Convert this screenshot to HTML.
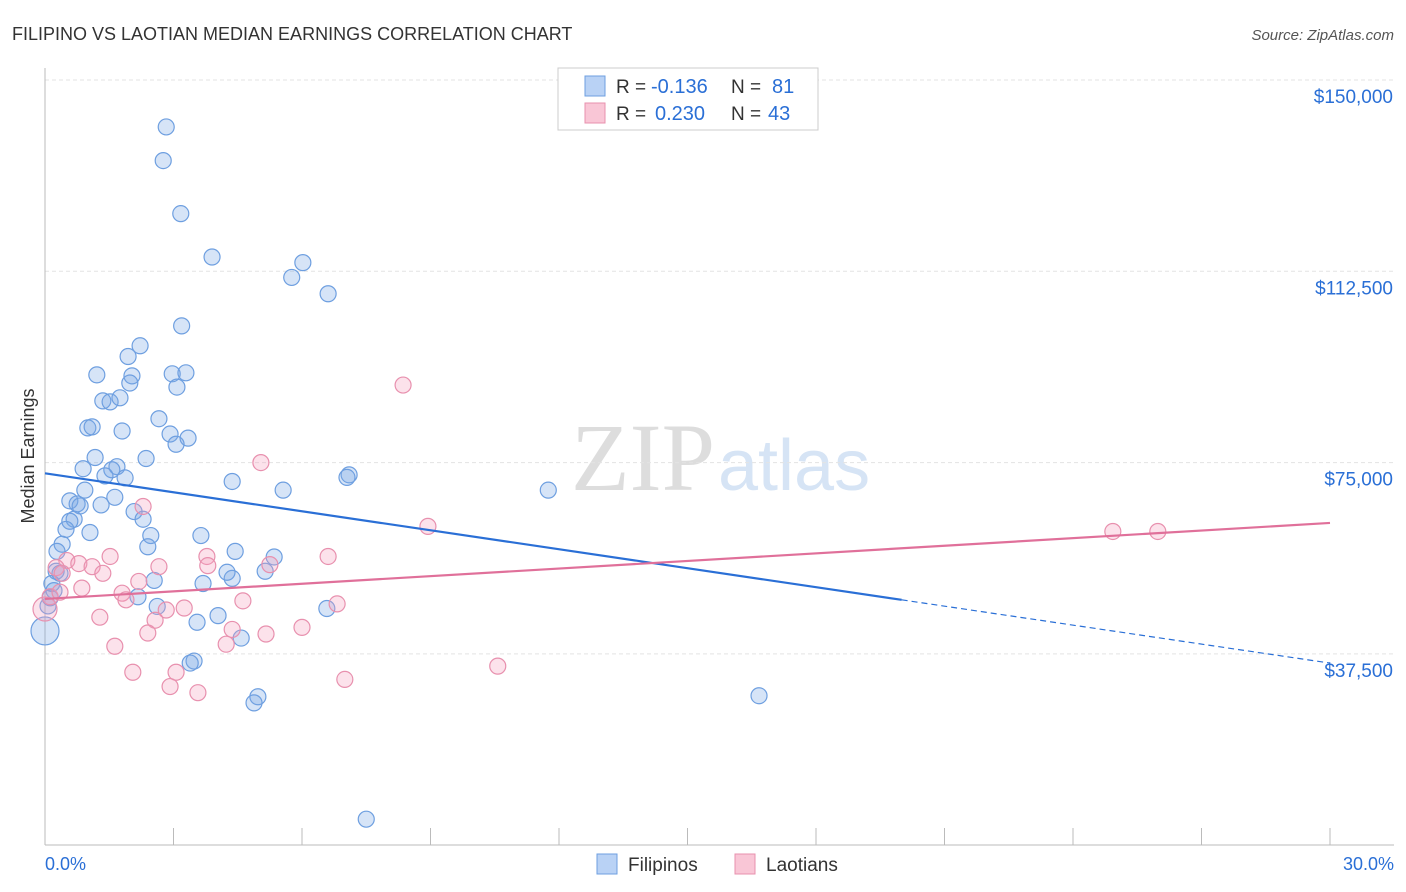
<!DOCTYPE html>
<html><head><meta charset="utf-8"><style>
body{margin:0;background:#fff;font-family:"Liberation Sans",sans-serif;}
svg{display:block}
</style></head><body>
<svg id="chart" width="1406" height="892">
<text x="12" y="40" font-size="18" fill="#333">FILIPINO VS LAOTIAN MEDIAN EARNINGS CORRELATION CHART</text>
<text x="1394" y="40" font-size="15" fill="#555" font-style="italic" text-anchor="end">Source: ZipAtlas.com</text>
<text x="715" y="490" font-size="96" fill="#ddd" font-family="Liberation Serif" text-anchor="end">ZIP</text>
<text x="718" y="490" font-size="72" fill="#d6e4f5" text-anchor="start">atlas</text>
<text x="34" y="456" font-size="18" fill="#333" text-anchor="middle" transform="rotate(-90 34 456)">Median Earnings</text>
<g id="grid"></g><g id="marks"></g>
<g>
<rect x="558" y="68" width="260" height="62" fill="#fff" stroke="#ccc"/>
<rect x="585" y="76" width="20" height="20" fill="#b9d2f5" stroke="#6e9fe0"/>
<rect x="585" y="103" width="20" height="20" fill="#f9c6d6" stroke="#e890ae"/>
<text x="616" y="93" font-size="19" fill="#333">R =</text>
<text x="651" y="93" font-size="20" fill="#2a6fd6">-0.136</text>
<text x="731" y="93" font-size="19" fill="#333">N =</text>
<text x="772" y="93" font-size="20" fill="#2a6fd6">81</text>
<text x="616" y="120" font-size="19" fill="#333">R =</text>
<text x="655" y="120" font-size="20" fill="#2a6fd6">0.230</text>
<text x="731" y="120" font-size="19" fill="#333">N =</text>
<text x="768" y="120" font-size="20" fill="#2a6fd6">43</text>
</g>
<g>
<rect x="597" y="854" width="20" height="20" fill="#b9d2f5" stroke="#6e9fe0"/>
<text x="628" y="871" font-size="19" fill="#333">Filipinos</text>
<rect x="735" y="854" width="20" height="20" fill="#f9c6d6" stroke="#e890ae"/>
<text x="766" y="871" font-size="19" fill="#333">Laotians</text>
</g>
<text x="45" y="870" font-size="18" fill="#2a6fd6">0.0%</text>
<text x="1394" y="870" font-size="18" fill="#2a6fd6" text-anchor="end">30.0%</text>
</svg>
<script>
const yTicks=[150000,112500,75000,37500];
const yTickLabels=["$150,000","$112,500","$75,000","$37,500"];
const blueX=[2.83,2.76,3.17,3.90,6.02,5.76,6.61,3.19,2.22,1.94,1.21,2.97,3.29,2.03,1.98,3.08,1.35,1.52,1.75,2.66,1.00,1.10,1.80,2.92,3.34,3.06,1.17,2.36,0.89,1.68,1.56,1.40,1.87,4.37,7.10,7.05,11.75,5.56,0.93,1.63,0.58,0.75,0.82,1.31,2.08,2.29,0.68,0.58,0.49,1.05,3.64,2.47,0.40,2.40,0.28,4.44,5.35,5.14,4.37,4.25,2.55,3.69,0.16,0.21,2.17,2.62,6.58,4.04,3.55,0.0,4.58,3.48,3.39,4.97,4.88,16.67,7.50,0.26,0.35,0.07,0.12];
const blueY=[140800,134200,123800,115300,114200,111300,108100,101800,97900,95800,92200,92400,92600,92000,90600,89800,87100,86900,87700,83600,81800,82000,81200,80600,79800,78600,76000,75800,73800,74200,73600,72400,72000,71300,72600,72100,69600,69600,69600,68200,67500,66900,66500,66700,65400,63900,63900,63500,61900,61300,60700,60700,59000,58500,57600,57600,56500,53700,52300,53500,51900,51300,51300,49900,48700,46800,46400,45000,43700,42000,40600,36100,35700,29100,27900,29300,5100,53700,53300,46900,48500];
const pinkX=[8.36,5.04,2.29,8.94,24.93,25.98,1.52,3.78,6.61,0.51,0.79,1.10,2.66,5.25,3.80,0.26,1.35,0.40,2.19,0.86,1.80,1.89,4.62,6.82,2.83,3.25,1.28,2.57,6.00,4.37,2.40,5.16,4.23,1.63,2.05,3.06,10.57,7.00,2.92,3.57,0.0,0.12,0.35];
const pinkY=[90200,75000,66400,62500,61500,61500,56600,56600,56600,55800,55200,54600,54600,55000,54800,54400,53300,53300,51700,50400,49400,48100,47900,47300,46100,46500,44700,44100,42700,42300,41600,41400,39400,39000,33900,33900,35100,32500,31100,29900,46300,48700,49600];
const blueR=[8,8,8,8,8,8,8,8,8,8,8,8,8,8,8,8,8,8,8,8,8,8,8,8,8,8,8,8,8,8,8,8,8,8,8,8,8,8,8,8,8,8,8,8,8,8,8,8,8,8,8,8,8,8,8,8,8,8,8,8,8,8,8,8,8,8,8,8,8,14,8,8,8,8,8,8,8,8,8,8,8];
const trendBlue=[72900,35700];
const trendPink=[48270,63170];
const X=v=>45+v/30*1285;
const Y=v=>80+(150000-v)/37500*191.3;
const NS="http://www.w3.org/2000/svg";
const grid=document.getElementById('grid'),marks=document.getElementById('marks'),svg=document.getElementById('chart');
function mk(t,a,p){const e=document.createElementNS(NS,t);for(const k in a)e.setAttribute(k,a[k]);p.appendChild(e);return e;}
yTicks.forEach((t,i)=>{
 const l=mk('line',{x1:45,x2:1394,y1:Y(t),y2:Y(t),stroke:'#e3e3e3','stroke-dasharray':'4 3'},grid);
 
 
 const tx=mk('text',{x:1393,y:Y(t)+23,'font-size':19,fill:'#2a6fd6','text-anchor':'end'},grid);
 tx.textContent=yTickLabels[i];
 
 
});
const ax=mk('line',{x1:45,x2:45,y1:68,y2:845,stroke:'#bbb'},grid);


const bx=mk('line',{x1:45,x2:1394,y1:845,y2:845,stroke:'#bbb'},grid);


for(let i=1;i<=10;i++){const t=mk('line',{x1:X(i*3),x2:X(i*3),y1:828,y2:845,stroke:'#bbb'},grid);
 
 }
blueX.forEach((x,i)=>{const c=mk('circle',{cx:X(x),cy:Y(blueY[i]),r:blueR[i],fill:'rgba(120,165,230,0.3)',stroke:'#6e9fe0','stroke-width':1.2},marks);
 
 });
pinkX.forEach((x,i)=>{const c=mk('circle',{cx:X(x),cy:Y(pinkY[i]),r:i==40?12:8,fill:'rgba(245,160,190,0.3)',stroke:'#e890ae','stroke-width':1.2},marks);
 
 });
const bAt=x=>trendBlue[0]+(trendBlue[1]-trendBlue[0])*x/30;
const t1=mk('line',{x1:X(0),y1:Y(bAt(0)),x2:X(20),y2:Y(bAt(20)),stroke:'#2a6fd6','stroke-width':2.2},marks);


const t2=mk('line',{x1:X(20),y1:Y(bAt(20)),x2:X(30),y2:Y(bAt(30)),stroke:'#2a6fd6','stroke-width':1.2,'stroke-dasharray':'6 4'},marks);


const t3=mk('line',{x1:X(0),y1:Y(trendPink[0]),x2:X(30),y2:Y(trendPink[1]),stroke:'#e0709a','stroke-width':2.2},marks);


</script>
</body></html>
